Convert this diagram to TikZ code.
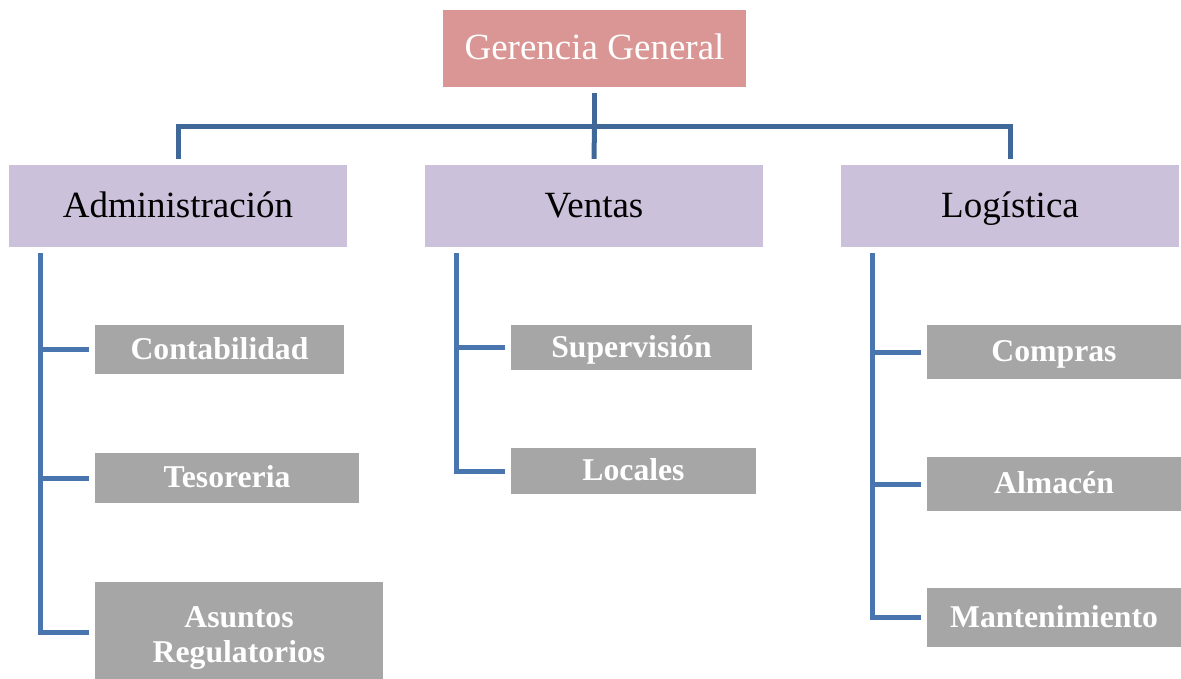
\documentclass[tikz,border=0pt]{standalone}
\usepackage{fontspec}
\setmainfont{Liberation Serif}
\definecolor{topfill}{HTML}{D99694}
\definecolor{midfill}{HTML}{CCC1DA}
\definecolor{leaffill}{HTML}{A6A6A6}
\definecolor{toplink}{HTML}{3F6898}
\definecolor{leaflink}{HTML}{4A76AF}
\tikzset{
  boxbase/.style={draw=none, inner sep=0pt, align=center},
  topbox/.style={boxbase, fill=topfill, text=white, font=\fontsize{37}{40}\selectfont, text height=29pt, text depth=6pt},
  midbox/.style={boxbase, fill=midfill, text=black, font=\fontsize{37}{40}\selectfont, minimum width=338pt, minimum height=82pt, text height=30pt, text depth=6pt},
  leafbox/.style={boxbase, fill=leaffill, text=white, font=\fontsize{31.7}{35}\selectfont\bfseries},
  leafone/.style={leafbox, text height=25pt, text depth=6pt},
  toplinkstyle/.style={draw=toplink, line width=5pt},
  leaflinkstyle/.style={draw=leaflink, line width=5pt}
}
\begin{document}
\begin{tikzpicture}[x=1pt,y=-1pt]
\useasboundingbox (0,0) rectangle (1181,679);
% top
\node[topbox, minimum width=303pt, minimum height=77pt] (gg) at (594.5,48.5) {Gerencia General};
% level 2
\node[midbox] (adm) at (178,206) {Administración};
\node[midbox] (ven) at (594,206) {Ventas};
\node[midbox] (log) at (1010,206) {Logística};
% leaves
\node[leafone, minimum width=249pt, minimum height=49pt] (con) at (219.5,349.5) {Contabilidad};
\node[leafone, minimum width=264pt, minimum height=50pt] (tes) at (227,478) {Tesoreria};
\node[leafbox, minimum width=288pt, minimum height=100pt] (asu) at (239,632) {\rule{0pt}{32pt}Asuntos\\Regulatorios};
\node[leafone, minimum width=241pt, minimum height=45pt] (sup) at (631.5,347.5) {Supervisión};
\node[leafone, minimum width=245pt, minimum height=46pt] (loc) at (633.5,471) {Locales};
\node[leafone, minimum width=254pt, minimum height=54pt] (com) at (1054,352) {Compras};
\node[leafone, minimum width=254pt, minimum height=54pt] (alm) at (1054,484) {Almacén};
\node[leafone, minimum width=254pt, minimum height=59pt] (man) at (1054,617.5) {Mantenimiento};
% top connectors
\coordinate (hub) at ([yshift=-39pt]gg.south);
\draw[toplinkstyle] ([yshift=-6pt]gg.south) -- (hub);
\draw[toplinkstyle] (hub) -| ([yshift=6pt]adm.north);
\draw[toplinkstyle] (hub) -| ([yshift=6pt]log.north);
\draw[toplinkstyle] (hub) -- ([yshift=6pt]ven.north);
% Administración children
\coordinate (admL) at ([xshift=32pt,yshift=-6pt]adm.south west);
\draw[leaflinkstyle] (admL) |- ([xshift=-6pt]asu.west);
\draw[leaflinkstyle] (admL |- con.west) -- ([xshift=-6pt]con.west);
\draw[leaflinkstyle] (admL |- tes.west) -- ([xshift=-6pt]tes.west);
% Ventas children
\coordinate (venL) at ([xshift=32pt,yshift=-6pt]ven.south west);
\draw[leaflinkstyle] (venL) |- ([xshift=-6pt]loc.west);
\draw[leaflinkstyle] (venL |- sup.west) -- ([xshift=-6pt]sup.west);
% Logística children
\coordinate (logL) at ([xshift=32pt,yshift=-6pt]log.south west);
\draw[leaflinkstyle] (logL) |- ([xshift=-6pt]man.west);
\draw[leaflinkstyle] (logL |- com.west) -- ([xshift=-6pt]com.west);
\draw[leaflinkstyle] (logL |- alm.west) -- ([xshift=-6pt]alm.west);
\end{tikzpicture}
\end{document}
